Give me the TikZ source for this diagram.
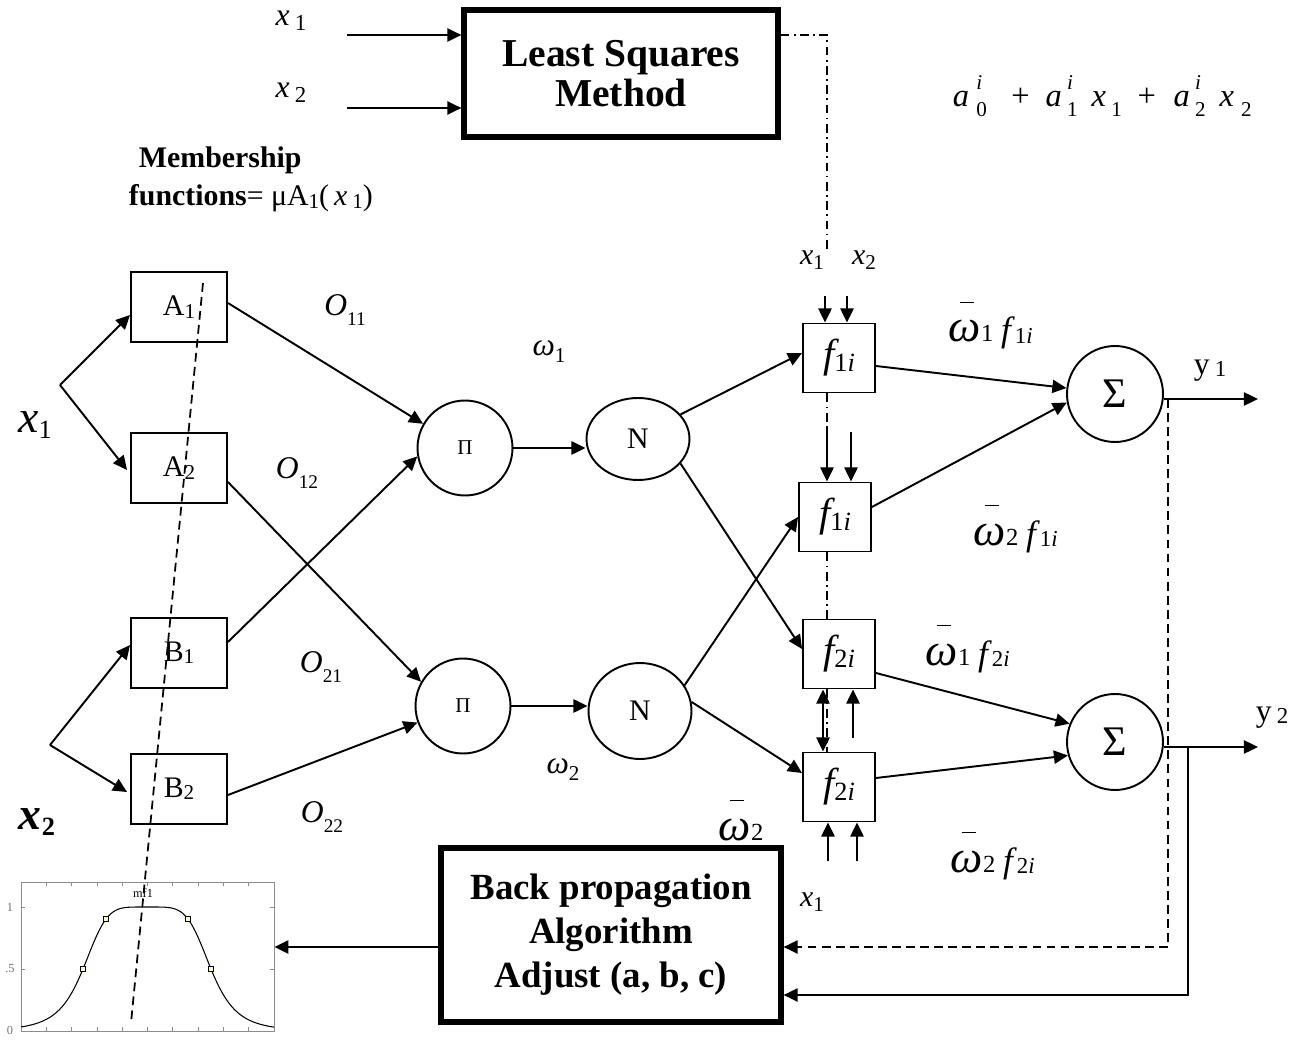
\documentclass[tikz,border=0pt]{standalone}
\usepackage{fontspec}
\setmainfont{Liberation Serif}
\usetikzlibrary{arrows.meta,calc,shapes.geometric}
\newcommand\fsz[1]{\fontsize{#1}{#1}\selectfont}
\newcommand\lo[3][0.25em]{\raisebox{-#1}{\fsz{#2}#3}}
\newcommand\hi[3][0.5em]{\raisebox{#1}{\fsz{#2}#3}}
\newcommand\supsub[2]{\makebox[0pt][l]{\hi[0.55em]{12}{\itshape #1}}\lo[0.3em]{12}{\upshape #2}}
\newcommand\wbar{\makebox[0pt][l]{\hspace{0.24em}\raisebox{0.85em}{\rule{0.3em}{0.7pt}}}\textit{ω}}
\begin{document}
\begin{tikzpicture}[x=0.02cm,y=-0.02cm,line width=1.1pt,
  arr/.style={-{Triangle[length=8pt,width=7.5pt]}},
  darr/.style={{Triangle[length=8pt,width=7.5pt]}-{Triangle[length=8pt,width=7.5pt]}},
  mbox/.style={draw,rectangle,inner sep=0pt,minimum width=1.92cm,minimum height=1.4cm,font=\fsz{17}},
  fbox/.style={draw,rectangle,inner sep=0pt,minimum width=1.44cm,minimum height=1.38cm,font=\fsz{23}\itshape},
  circ/.style={draw,circle,inner sep=0pt,minimum size=1.9cm},
  nell/.style={draw,ellipse,inner sep=0pt,minimum width=2.06cm},
  bigbox/.style={draw,line width=3pt,rectangle,inner sep=0pt,align=center},
  lbl/.style={inner sep=0pt},
  ddot/.style={dash pattern=on 5pt off 2.5pt on 1pt off 2.5pt,line width=1pt},
  dsh/.style={dash pattern=on 5pt off 3pt,line width=1.1pt}]
\useasboundingbox (0,0) rectangle (1299,1040);

% ---------- top block ----------
\node[bigbox,minimum width=6.28cm,minimum height=2.54cm,font=\fsz{22.5}\bfseries] (LSM) at (621,73.5) {Least Squares\\[0pt]Method};
\node[lbl,font=\fsz{18}\itshape] (tx1) at (291,21) {x\,\lo[0.15em]{13}{\upshape 1}};
\node[lbl,font=\fsz{18}\itshape] (tx2) at (291,93) {x\,\lo[0.15em]{13}{\upshape 2}};
\coordinate (in1) at (347,35);
\coordinate (in2) at (347,108);
\draw[arr] (in1) -- (LSM.west |- in1);
\draw[arr] (in2) -- (LSM.west |- in2);
\node[lbl,font=\fsz{18.5}\itshape,anchor=base west] (formula) at (952,107)
  {a\hspace{4pt}\supsub{i}{0}\hspace{14pt}\upshape+\hspace{9pt}\itshape a\hspace{3pt}\supsub{i}{1}\hspace{8pt}x\hspace{3pt}\lo[0.3em]{12}{\upshape 1}\hspace{9pt}\upshape+\hspace{10pt}\itshape a\hspace{3pt}\supsub{i}{2}\hspace{8pt}x\hspace{4pt}\lo[0.3em]{12}{\upshape 2}};

\node[lbl,font=\fsz{17}\bfseries,anchor=west] (mem1) at (138,160) {Membership};
\node[lbl,font=\fsz{17},anchor=west] (mem2) at (128,198) {{\bfseries functions}= μA\lo[0.1em]{12}{1}(\,\textit{x}\,\lo[0.1em]{12}{1})};

% ---------- input layer ----------
\node[lbl,font=\fsz{26}\itshape] (X1) at (35,425) {x\lo[0.15em]{15}{\upshape 1}};
\node[lbl,font=\fsz{26}\itshape\bfseries] (X2) at (37,822) {x\lo[0.15em]{15}{\upshape 2}};
\coordinate (x1f) at (60,385);
\coordinate (x2f) at (50,745);

\node[mbox] (A1) at (179,307) {A\lo[0.08em]{12}{1}};
\node[mbox] (A2) at (179,468) {A\lo[0.08em]{12}{2}};
\node[mbox] (B1) at (179,653) {B\lo[0.08em]{12}{1}};
\node[mbox] (B2) at (179,789) {B\lo[0.08em]{12}{2}};

\draw[arr] (x1f) -- ($(A1.west)+(0,8)$);
\draw[arr] (x1f) -- ($(A2.west)+(-3,2)$);
\draw[arr] (x2f) -- ($(B1.west)+(0,-8)$);
\draw[arr] (x2f) -- ($(B2.west)+(-3,3)$);

% ---------- product layer ----------
\node[circ,font=\fsz{12}] (P1) at (465,448) {Π};
\node[circ,font=\fsz{12}] (P2) at (463,706) {Π};
\draw[arr] ($(A1.east)+(0,-4)$) -- (P1.150);
\draw[arr] ($(B1.east)+(0,-11)$) -- (P1.190);
\draw[arr] ($(A2.east)+(0,14)$) -- (P2.150);
\draw[arr] ($(B2.east)+(0,6)$) -- (P2.200);

\node[lbl,font=\fsz{18}\itshape] (O11) at (345,310) {O\lo[0.3em]{11}{\upshape 11}};
\node[lbl,font=\fsz{18}\itshape] (O12) at (297,473) {O\lo[0.3em]{11}{\upshape 12}};
\node[lbl,font=\fsz{18}\itshape] (O21) at (321,667) {O\lo[0.3em]{11}{\upshape 21}};
\node[lbl,font=\fsz{18}\itshape] (O22) at (322,817) {O\lo[0.3em]{11}{\upshape 22}};

% ---------- normalisation layer ----------
\node[nell,minimum height=1.64cm,font=\fsz{17}] (N1) at (638,439) {N};
\node[nell,minimum height=1.92cm,font=\fsz{17}] (N2) at (640,711) {N};
\draw[arr] (P1.east) -- (P1.east -| N1.west);
\draw[arr] (P2.east) -- (P2.east -| N2.west);
\node[lbl,font=\fsz{18}\itshape] (w1) at (549,352) {ω\lo[0.22em]{12}{\upshape 1}};
\node[lbl,font=\fsz{18}\itshape] (w2) at (563,770) {ω\lo[0.22em]{12}{\upshape 2}};
\node[lbl,font=\fsz{26},anchor=base west] (wb2) at (718,840) {\wbar\lo[0em]{14}{2}};

% ---------- consequent layer ----------
\node[fbox] (f11) at (839,358) {f\lo[0.1em]{15}{\upshape 1\itshape i}};
\node[fbox] (f12) at (835,517) {f\lo[0.1em]{15}{\upshape 1\itshape i}};
\node[fbox] (f21) at (839,654) {f\lo[0.1em]{15}{\upshape 2\itshape i}};
\node[fbox] (f22) at (839,787) {f\lo[0.1em]{15}{\upshape 2\itshape i}};

\draw[arr] (N1.30) -- ($(f11.west)+(0,-5)$);
\draw[arr] (N1.-30) -- ($(f21.west)+(0,-5)$);
\draw[arr] (N2.30) -- (f12.west);
\draw[arr] (N2.10) -- ($(f22.west)+(0,-14)$);

\node[lbl,font=\fsz{17}\itshape] (fx1) at (812,260) {x\lo[0.17em]{12}{\upshape 1}};
\node[lbl,font=\fsz{17}\itshape] (fx2) at (864,260) {x\lo[0.17em]{12}{\upshape 2}};
\node[lbl,font=\fsz{17}\itshape] (bx1) at (812,902) {x\lo[0.17em]{12}{\upshape 1}};

% dash-dot link from least squares
\draw[ddot] (LSM.east |- in1) -- (827,35) -- (827,250);
\draw[ddot] ($(f11.south)+(-12,0)$) -- ($(f12.north)+(-8,-55)$);
\draw[ddot] ($(f12.south)+(-8,0)$) -- ($(f21.north)+(-12,0)$);
\draw[ddot] ($(f21.south)+(-12,0)$) -- ($(f22.north)+(-12,0)$);

\draw[arr] ($(f11.north)+(-14,-27)$) -- ($(f11.north)+(-14,0)$);
\draw[arr] ($(f11.north)+(8,-27)$) -- ($(f11.north)+(8,0)$);
\draw[arr] ($(f12.north)+(-8,-55)$) -- ($(f12.north)+(-8,0)$);
\draw[arr] ($(f12.north)+(16,-50)$) -- ($(f12.north)+(16,0)$);
\draw[darr] ($(f21.south)+(-16,0)$) -- ($(f22.north)+(-16,0)$);
\draw[arr] ($(f22.north)+(14,-14)$) -- ($(f21.south)+(14,0)$);
\draw[arr] ($(f22.south)+(-11,39)$) -- ($(f22.south)+(-11,0)$);
\draw[arr] ($(f22.south)+(18,39)$) -- ($(f22.south)+(18,0)$);

% ---------- output layer ----------
\node[circ,minimum size=1.92cm,font=\fsz{24}] (S1) at (1115,394) {Σ};
\node[circ,minimum size=1.92cm,font=\fsz{24}] (S2) at (1115,742) {Σ};
\draw[arr] ($(f11.east)+(0,8)$) -- (S1.173);
\draw[arr] ($(f12.east)+(0,-10)$) -- (S1.190);
\draw[arr] ($(f21.east)+(0,19)$) -- (S2.158);
\draw[arr] ($(f22.east)+(0,-9)$) -- (S2.196);

\node[lbl,font=\fsz{26},anchor=base west] (l11) at (948,342) {\wbar\lo[0em]{14}{1}\,\fsz{20}\textit{f}\lo[0.05em]{13}{1\textit{i}}};
\node[lbl,font=\fsz{26},anchor=base west] (l21) at (973,545) {\wbar\lo[0em]{14}{2}\,\fsz{20}\textit{f}\lo[0.05em]{13}{1\textit{i}}};
\node[lbl,font=\fsz{26},anchor=base west] (l12) at (925,665) {\wbar\lo[0em]{14}{1}\,\fsz{20}\textit{f}\lo[0.05em]{13}{2\textit{i}}};
\node[lbl,font=\fsz{26},anchor=base west] (l22) at (950,872) {\wbar\lo[0em]{14}{2}\,\fsz{20}\textit{f}\lo[0.05em]{13}{2\textit{i}}};

\coordinate (y1end) at (1258,399);
\coordinate (y2end) at (1258,747);
\draw[arr] (S1.east |- y1end) -- (y1end);
\draw[arr] (S2.east |- y2end) -- (y2end);
\node[lbl,font=\fsz{18}] (Y1) at (1210,371) {y\,\lo[0.05em]{13}{1}};
\node[lbl,font=\fsz{18}] (Y2) at (1272,718) {y\,\lo[0.05em]{13}{2}};

% ---------- back propagation ----------
\node[bigbox,minimum width=6.8cm,minimum height=3.48cm,font=\fontsize{21}{25}\selectfont\bfseries] (BP) at (611,935) {Back propagation\\Algorithm\\Adjust (a, b, c)};
\coordinate (tap1) at (1168,399);
\coordinate (tap2) at (1188,747);
\draw[dsh,arr] (tap1) |- (BP.east |- 0,947);
\draw[arr] (tap2) |- (BP.east |- 0,995);

% ---------- membership function plot ----------
\node[draw=black!45,line width=0.5pt,rectangle,inner sep=0pt,minimum width=5.06cm,minimum height=2.98cm] (mfplot) at (147.5,956.5) {};
\draw[arr] (BP.west |- 0,947) -- (mfplot.east |- 0,947);
\foreach \k in {0,...,10} {
  \draw[black!45,line width=0.4pt] (21+25.3*\k,882) -- ++(0,4);
  \draw[black!45,line width=0.4pt] (21+25.3*\k,1031) -- ++(0,-4);
}
\foreach \yy in {907,969} {
  \draw[black!45,line width=0.4pt] (21,\yy) -- ++(4,0);
  \draw[black!45,line width=0.4pt] (274,\yy) -- ++(-4,0);
}
\node[lbl,font=\fsz{7},text=black!55] (t1) at (10,907) {1};
\node[lbl,font=\fsz{7},text=black!55] (t5) at (10,969) {.5};
\node[lbl,font=\fsz{7},text=black!55] (t0) at (10,1030) {0};
\draw[line width=0.6pt,domain=21:274,samples=140,smooth] plot (\x,{1031-124/(1+(abs((\x-147)/64))^5)});
\foreach \px/\py in {83/969,106/919,188/919,211/969}
  \draw[line width=0.4pt,fill=yellow!30] (\px-2.5,\py-2.5) rectangle (\px+2.5,\py+2.5);
\node[lbl,font=\fsz{7}] (mf1) at (143,893) {mf1};

% dashed cut through membership functions
\draw[dsh,line width=1pt] (203,283) -- (131,1023);
\end{tikzpicture}
\end{document}
